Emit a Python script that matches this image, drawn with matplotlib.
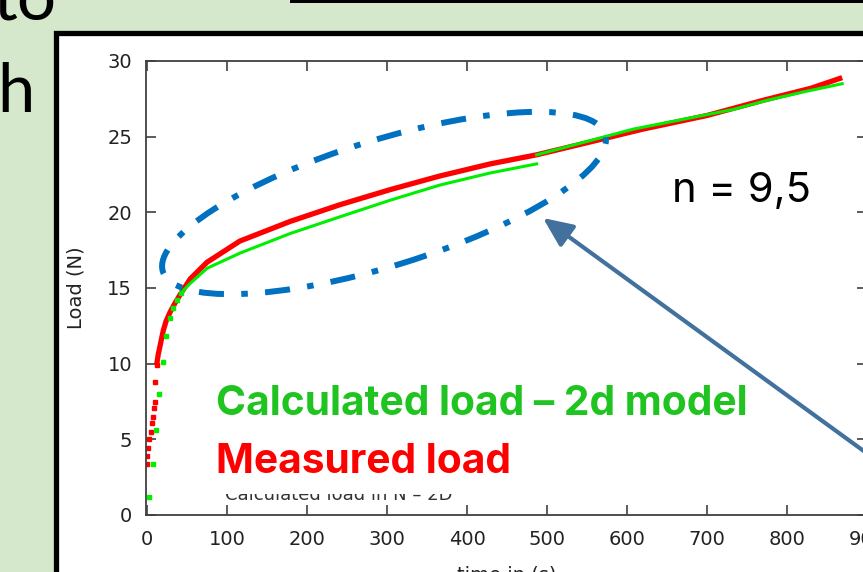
import matplotlib.pyplot as plt
from matplotlib.patches import Rectangle, Ellipse, FancyArrowPatch

# measured load (red) - sparse points at the fast start, then the dense trace
meas_t_early = [0, 0.4, 1.7, 2.9, 4.6, 6.3, 7.1, 8.8, 9.6, 9.6, 12]
meas_f_early = [3.4, 3.9, 4.4, 5.0, 5.5, 6.1, 6.5, 7.1, 7.5, 8.8, 9.9]
meas_t = [12, 14, 16, 18.4, 20.4, 23.8, 28.8, 35, 43, 54, 75, 116, 179, 241,
          304, 366, 429, 487, 550, 620, 700, 770, 830, 869]
meas_f = [9.9, 10.6, 11.1, 11.7, 12.2, 12.8, 13.4, 14.0, 14.7, 15.6, 16.7, 18.1, 19.4, 20.5,
          21.5, 22.4, 23.2, 23.8, 24.6, 25.5, 26.4, 27.4, 28.2, 28.9]

# calculated load, 2d model (green)
calc_t_early = [3, 7, 11, 15.4, 20, 24, 29, 33, 37, 43]
calc_f_early = [1.2, 3.4, 5.6, 8.0, 10.1, 11.8, 13.0, 13.7, 14.2, 14.7]
calc_t1 = [43, 54, 75, 116, 179, 241, 304, 366, 429, 487]
calc_f1 = [14.7, 15.3, 16.3, 17.3, 18.6, 19.7, 20.8, 21.8, 22.6, 23.2]
calc_t2 = [487, 608, 733, 775, 820, 869]
calc_f2 = [23.8, 25.5, 26.8, 27.4, 27.95, 28.5]

x_ticks = [0, 100, 200, 300, 400, 500, 600, 700, 800, 900]
y_ticks = [0, 5, 10, 15, 20, 25, 30]

W, H = 863, 572
fig = plt.figure(figsize=(W / 100, H / 100), dpi=100, facecolor="#d5e8cb")
tr = fig.dpi_scale_trans


def px(x, y):
    # screen pixel (from top-left) -> inches for dpi_scale_trans
    return x / 100, (H - y) / 100


# slide pieces around the picture
fig.add_artist(Rectangle(px(56, 33 + 600), 9.0, 6.0, transform=tr, fc="white",
                         ec="black", lw=3.8, zorder=-1))
fig.add_artist(Rectangle(px(290, 3), 6.0, 0.2, transform=tr, fc="black", ec="none", zorder=-1))
fig.text(*px(57, 20), "to", transform=tr, ha="right", va="baseline",
         fontsize=50, family="Lato", color="black")
fig.text(*px(-3, 112), "h", transform=tr, ha="left", va="baseline",
         fontsize=48, family="Lato", color="black")

ax = fig.add_axes([146 / W, 1 - 515 / H, (867 - 146) / W, (515 - 61) / H])
ax.patch.set_alpha(0)

ax.plot(meas_t, meas_f, color="#ff0000", lw=3.8, solid_capstyle="butt", zorder=2)
ax.plot(meas_t_early, meas_f_early, ls="none", marker="s", ms=3, color="#ff0000", zorder=2)
ax.plot(calc_t1, calc_f1, color="#00ee00", lw=2.2, zorder=3)
ax.plot(calc_t2, calc_f2, color="#00ee00", lw=2.2, zorder=3)
ax.plot(calc_t_early, calc_f_early, ls="none", marker="s", ms=3, color="#00ee00", zorder=3)

ax.set_xlim(-1.25, 900)
ax.set_ylim(0, 30)
ax.set_xticks(x_ticks)
ax.set_yticks(y_ticks)
ax.tick_params(direction="in", length=7, width=1.2, color="#404040",
               top=True, right=True, labelsize=14, labelcolor="#222222")
ax.tick_params(axis="x", pad=11)
ax.tick_params(axis="y", pad=10)
for s in ax.spines.values():
    s.set_color("#404040")
    s.set_linewidth(1.3)
ax.set_xlabel("time in (s)", fontsize=14, color="#222222", labelpad=12)
ax.set_ylabel("Load (N)", fontsize=14, color="#222222", labelpad=16)

# old legend text, mostly hidden behind the slide text box
fig.text(*px(225, 500), "Calculated load in N \u2013 2D", transform=tr, fontsize=13,
         color="#333333", va="baseline", zorder=3)
fig.add_artist(Rectangle(px(215, 494), 2.9, 0.2, transform=tr, fc="white", ec="none", zorder=3.5))

fig.text(*px(216, 415), "Calculated load \u2013 2d model", transform=tr, fontsize=29.3,
         family="Inter", weight="bold", color="#20c420", va="baseline", zorder=4)
fig.text(*px(216, 473), "Measured load", transform=tr, fontsize=29.3,
         family="Inter", weight="bold", color="#ff0000", va="baseline", zorder=4)
fig.text(*px(672, 202), "n = 9,5", transform=tr, fontsize=30,
         family="Inter", color="black", va="baseline", zorder=4)

fig.add_artist(Ellipse(px(384, 203), 4.63, 1.26, angle=17.2, transform=tr, fill=False,
                       ec="#0070c0", lw=4.3, ls=(0, (4.2, 2.9, 1.1, 2.9)), zorder=5))
fig.add_artist(FancyArrowPatch(px(905, 481), px(543, 218), transform=tr,
                               arrowstyle="-|>,head_length=0.45,head_width=0.2",
                               mutation_scale=40, lw=3, color="#41719c",
                               shrinkA=0, shrinkB=0, zorder=5))

fig.savefig("out.png", dpi=100, facecolor=fig.get_facecolor())
